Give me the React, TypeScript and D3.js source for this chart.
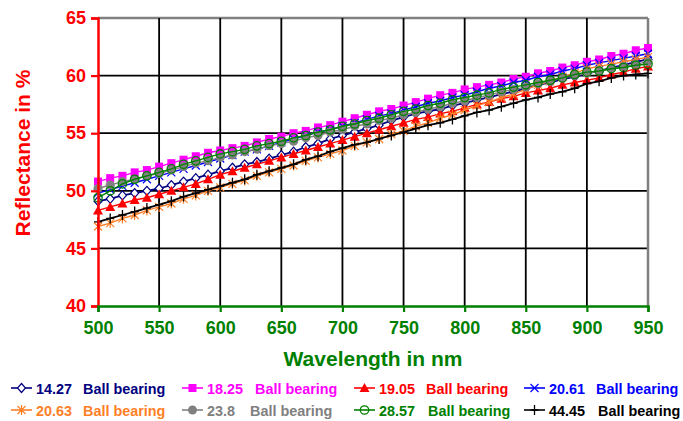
import React, { useEffect, useRef } from 'react';
import * as d3 from 'd3';

// wavelength in nm, one reading every 10 nm
const wavelengths = d3.range(500, 951, 10);
const xTicks = [500, 550, 600, 650, 700, 750, 800, 850, 900, 950];
const yTicks = [40, 45, 50, 55, 60, 65];

// reflectance in %, per ball bearing size
const ball1427 = [49.1, 49.3, 49.6, 49.8, 50.0, 50.2, 50.5, 50.8, 51.1, 51.4, 51.7, 52.0, 52.3, 52.5, 52.8, 53.1, 53.4, 53.8, 54.1, 54.5, 54.8, 55.1, 55.4, 55.7, 56.1, 56.4, 56.7, 56.9, 57.1, 57.4, 57.6, 57.9, 58.1, 58.4, 58.6, 58.9, 59.2, 59.4, 59.7, 59.9, 60.2, 60.4, 60.7, 60.9, 61.2, 61.4];
const ball1825 = [50.8, 51.1, 51.3, 51.6, 51.8, 52.1, 52.4, 52.7, 53.0, 53.3, 53.5, 53.7, 53.9, 54.2, 54.5, 54.7, 55.0, 55.2, 55.5, 55.7, 56.0, 56.3, 56.6, 56.9, 57.1, 57.4, 57.7, 58.0, 58.3, 58.5, 58.8, 59.0, 59.2, 59.4, 59.7, 59.9, 60.2, 60.4, 60.7, 60.9, 61.2, 61.4, 61.7, 61.9, 62.2, 62.4];
const ball1905 = [48.3, 48.6, 48.9, 49.2, 49.4, 49.7, 50.0, 50.3, 50.6, 51.0, 51.4, 51.7, 52.0, 52.3, 52.6, 52.9, 53.2, 53.5, 53.8, 54.1, 54.4, 54.7, 55.0, 55.3, 55.6, 55.9, 56.2, 56.4, 56.7, 56.9, 57.2, 57.5, 57.7, 58.0, 58.2, 58.5, 58.7, 58.9, 59.2, 59.4, 59.6, 59.8, 60.1, 60.3, 60.6, 60.8];
const ball2061 = [49.8, 50.1, 50.4, 50.7, 51.0, 51.3, 51.6, 51.9, 52.2, 52.5, 52.8, 53.1, 53.4, 53.6, 53.9, 54.2, 54.5, 54.8, 55.1, 55.3, 55.6, 55.9, 56.2, 56.5, 56.7, 57.0, 57.3, 57.6, 57.8, 58.1, 58.3, 58.6, 58.9, 59.1, 59.4, 59.6, 59.9, 60.1, 60.4, 60.6, 60.9, 61.1, 61.3, 61.5, 61.7, 61.9];
const ball2063 = [46.9, 47.2, 47.6, 47.9, 48.3, 48.6, 48.9, 49.3, 49.6, 50.0, 50.3, 50.6, 50.9, 51.3, 51.6, 51.9, 52.2, 52.6, 52.9, 53.2, 53.5, 53.9, 54.2, 54.5, 54.9, 55.2, 55.6, 55.9, 56.3, 56.6, 57.0, 57.4, 57.7, 58.1, 58.4, 58.8, 59.2, 59.5, 59.9, 60.2, 60.6, 60.8, 61.0, 61.2, 61.4, 61.6];
const ball238 = [50.2, 50.5, 50.8, 51.0, 51.3, 51.5, 51.8, 52.1, 52.4, 52.6, 52.9, 53.1, 53.4, 53.6, 53.9, 54.1, 54.3, 54.6, 54.8, 55.1, 55.3, 55.6, 55.8, 56.1, 56.3, 56.6, 56.8, 57.1, 57.3, 57.6, 57.8, 58.1, 58.3, 58.6, 58.8, 59.0, 59.3, 59.5, 59.8, 60.0, 60.2, 60.4, 60.6, 60.8, 61.0, 61.2];
const ball2857 = [49.4, 50.0, 50.6, 51.0, 51.3, 51.6, 51.9, 52.3, 52.6, 52.9, 53.2, 53.4, 53.6, 53.9, 54.1, 54.3, 54.6, 54.8, 55.1, 55.3, 55.6, 55.8, 56.1, 56.3, 56.6, 56.9, 57.1, 57.4, 57.6, 57.9, 58.1, 58.3, 58.5, 58.8, 59.0, 59.2, 59.4, 59.6, 59.8, 60.1, 60.3, 60.4, 60.6, 60.7, 60.9, 61.0];
const ball4445 = [47.3, 47.6, 47.9, 48.2, 48.5, 48.8, 49.1, 49.5, 49.8, 50.1, 50.4, 50.7, 51.0, 51.4, 51.7, 52.0, 52.3, 52.7, 53.0, 53.4, 53.7, 54.0, 54.2, 54.5, 54.8, 55.1, 55.4, 55.7, 55.9, 56.2, 56.5, 56.8, 57.0, 57.3, 57.6, 57.9, 58.1, 58.4, 58.6, 58.9, 59.3, 59.5, 59.8, 60.0, 60.1, 60.2];

const series = [
  { label: '14.27', values: ball1427, color: '#000080', marker: 'diamond' },
  { label: '18.25', values: ball1825, color: '#ff00ff', marker: 'square' },
  { label: '19.05', values: ball1905, color: '#ff0000', marker: 'triangle' },
  { label: '20.61', values: ball2061, color: '#0000ff', marker: 'x' },
  { label: '20.63', values: ball2063, color: '#ff7f27', marker: 'star' },
  { label: '23.8', values: ball238, color: '#808080', marker: 'dot' },
  { label: '28.57', values: ball2857, color: '#008000', marker: 'circle' },
  { label: '44.45', values: ball4445, color: '#000000', marker: 'plus' }
];

const FONT = 'Liberation Sans, Arial, sans-serif';

function drawMarker(g, type, color, cx, cy) {
  const m = g.append('g').attr('transform', `translate(${cx},${cy})`);
  if (type === 'diamond') {
    m.append('path').attr('d', 'M0,-4.5L4,0L0,4.5L-4,0Z')
      .attr('fill', '#fff').attr('stroke', color).attr('stroke-width', 1.2);
  } else if (type === 'square') {
    m.append('rect').attr('x', -4).attr('y', -4).attr('width', 8).attr('height', 8)
      .attr('fill', color);
  } else if (type === 'triangle') {
    m.append('path').attr('d', 'M0,-5L5,4L-5,4Z').attr('fill', color);
  } else if (type === 'x') {
    m.append('path').attr('d', 'M-4,-4L4,4M-4,4L4,-4')
      .attr('stroke', color).attr('stroke-width', 1.2);
  } else if (type === 'star') {
    m.append('path').attr('d', 'M-4,-4L4,4M-4,4L4,-4M0,-5L0,5')
      .attr('stroke', color).attr('stroke-width', 1.2);
  } else if (type === 'dot') {
    m.append('circle').attr('r', 4.5).attr('fill', color);
  } else if (type === 'circle') {
    m.append('circle').attr('r', 4.2).attr('fill', 'none')
      .attr('stroke', color).attr('stroke-width', 1.3);
  } else if (type === 'plus') {
    m.append('path').attr('d', 'M0,-5L0,5M-4,0L4,0')
      .attr('stroke', color).attr('stroke-width', 1.3);
  }
}

export default function App() {
  const ref = useRef(null);

  useEffect(() => {
    const svg = d3.select(ref.current);
    svg.selectAll('*').remove();

    const left = 98, right = 648, top = 18, bottom = 306;
    const x = d3.scaleLinear().domain([500, 950]).range([left, right]);
    const y = d3.scaleLinear().domain([40, 65]).range([bottom, top]);

    // grid
    const grid = svg.append('g');
    grid.selectAll('.hg').data(yTicks.filter((t) => t > 40)).enter().append('line')
      .attr('x1', left).attr('x2', right)
      .attr('y1', (d) => y(d)).attr('y2', (d) => y(d))
      .attr('stroke', (d) => (d === 65 ? '#808080' : '#000'))
      .attr('stroke-width', (d) => (d === 65 ? 2.5 : 1.8));
    grid.selectAll('.vg').data(xTicks.filter((t) => t > 500)).enter().append('line')
      .attr('x1', (d) => x(d)).attr('x2', (d) => x(d))
      .attr('y1', top).attr('y2', bottom)
      .attr('stroke', (d) => (d === 950 ? '#808080' : '#000'))
      .attr('stroke-width', (d) => (d === 950 ? 2.5 : 1.8));

    // series
    const line = d3.line().x((d) => x(d[0])).y((d) => y(d[1]));
    series.forEach((s) => {
      const pts = wavelengths.map((w, i) => [w, s.values[i]]);
      const g = svg.append('g');
      g.append('path').attr('d', line(pts)).attr('fill', 'none')
        .attr('stroke', s.color).attr('stroke-width', s.color === '#000080' || s.color === '#000000' ? 1.8 : 1.4);
      pts.forEach((p) => drawMarker(g, s.marker, s.color, x(p[0]), y(p[1])));
    });

    // y axis
    const yAxis = d3.axisLeft(y).tickValues(yTicks).tickSize(7).tickPadding(5);
    const ya = svg.append('g').attr('transform', `translate(${left},0)`).call(yAxis);
    ya.select('.domain').attr('stroke', '#ff0000').attr('stroke-width', 2.5);
    ya.selectAll('.tick line').attr('stroke', '#ff0000').attr('stroke-width', 2.2);
    ya.selectAll('.tick text').attr('fill', '#ff0000').attr('font-family', FONT)
      .attr('font-weight', 'bold').attr('font-size', 18);

    // x axis
    const xAxis = d3.axisBottom(x).tickValues(xTicks).tickSize(6).tickPadding(9);
    const xa = svg.append('g').attr('transform', `translate(0,${bottom})`).call(xAxis);
    xa.select('.domain').attr('stroke', '#008000').attr('stroke-width', 2.5);
    xa.selectAll('.tick line').attr('stroke', '#008000').attr('stroke-width', 2.2);
    xa.selectAll('.tick text').attr('fill', '#008000').attr('font-family', FONT)
      .attr('font-weight', 'bold').attr('font-size', 18);

    // titles
    svg.append('text').attr('transform', 'translate(30,153) rotate(-90)')
      .attr('text-anchor', 'middle').attr('fill', '#ff0000').attr('font-family', FONT)
      .attr('font-weight', 'bold').attr('font-size', 21).text('Reflectance in %');
    svg.append('text').attr('x', 373).attr('y', 366)
      .attr('text-anchor', 'middle').attr('fill', '#008000').attr('font-family', FONT)
      .attr('font-weight', 'bold').attr('font-size', 21).text('Wavelength in nm');

    // legend
    const colX = [11, 182, 354, 524];
    const nameX = [[83, 255, 426, 596], [83, 250, 428, 598]];
    series.forEach((s, i) => {
      const row = Math.floor(i / 4);
      const col = i % 4;
      const cy = 388 + row * 22;
      const lg = svg.append('g');
      lg.append('line').attr('x1', colX[col]).attr('x2', colX[col] + 21)
        .attr('y1', cy).attr('y2', cy).attr('stroke', s.color).attr('stroke-width', 1.6);
      drawMarker(lg, s.marker, s.color, colX[col] + 10.5, cy);
      lg.append('text').attr('x', colX[col] + 25).attr('y', cy + 5.5)
        .attr('fill', s.color).attr('font-family', FONT).attr('font-weight', 'bold')
        .attr('font-size', 14.4).text(s.label);
      lg.append('text').attr('x', nameX[row][col]).attr('y', cy + 5.5)
        .attr('fill', s.color).attr('font-family', FONT).attr('font-weight', 'bold')
        .attr('font-size', 14.4).text('Ball bearing');
    });
  }, []);

  return (
    <svg
      ref={ref}
      width={683}
      height={421}
      style={{ position: 'absolute', left: 0, top: 0, background: '#fff' }}
    />
  );
}
